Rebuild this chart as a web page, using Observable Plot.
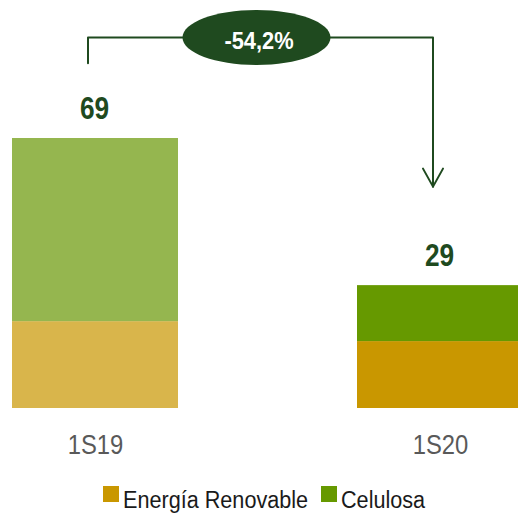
<!DOCTYPE html>
<html>
<head>
<meta charset="utf-8">
<script src="https://cdn.jsdelivr.net/npm/d3@7"></script>
<script src="https://cdn.jsdelivr.net/npm/@observablehq/plot@0.6"></script>
<style>
  html { overflow: hidden; }
  html, body { margin: 0; padding: 0; background: #fff; }
  #chart { position: relative; height: 513px; }
  #chart svg { display: block; }
  .legend { position: absolute; left: 103px; top: 487px; display: flex; align-items: flex-start; font-family: "Liberation Sans", Arial, sans-serif; font-size: 23.5px; line-height: 27px; color: #1a1a1a; white-space: nowrap; }
  .legend .item { display: flex; align-items: flex-start; }
  .legend .sw { width: 16px; height: 16px; margin-top: -1px; margin-right: 4px; flex: none; }
  .legend .txt { display: inline-block; overflow: visible; }
  .legend .inner { display: inline-block; transform-origin: 0 0; }
</style>
</head>
<body>
<div id="chart"></div>
<script>
// ---- data ----
const periods = ["1S19", "1S20"];
const series = ["Energía Renovable", "Celulosa"];
const energiaRenovable = [22.2, 17.1];
const celulosa = [46.8, 14.3];
const totalLabels = ["69", "29"];
const changeLabel = "-54,2%";

// ---- styles ----
const font = '"Liberation Sans", Arial, sans-serif';
const erShades = ["#D9B54B", "#C99700"];
const celShades = ["#95B64F", "#669900"];
const dark = "#1F4A1F";

const rows = periods.flatMap((p, i) => [
  {period: p, series: series[0], value: energiaRenovable[i], color: erShades[i]},
  {period: p, series: series[1], value: celulosa[i], color: celShades[i]}
]);
const totals = periods.map((p, i) => ({period: p, total: energiaRenovable[i] + celulosa[i], label: totalLabels[i]}));

const bracketTop = d3.max(totals, d => d.total) + 25.8;
const connector = [
  {period: periods[0], y: totals[0].total + 19.2},
  {period: periods[0], y: bracketTop},
  {period: periods[1], y: bracketTop},
  {period: periods[1], y: totals[1].total + 25.3}
];

const ellipse = {
  draw(ctx) {
    const rx = 74, ry = 27.5, k = 0.5523;
    ctx.moveTo(rx, 0);
    ctx.bezierCurveTo(rx, ry * k, rx * k, ry, 0, ry);
    ctx.bezierCurveTo(-rx * k, ry, -rx, ry * k, -rx, 0);
    ctx.bezierCurveTo(-rx, -ry * k, -rx * k, -ry, 0, -ry);
    ctx.bezierCurveTo(rx * k, -ry, rx, -ry * k, rx, 0);
    ctx.closePath();
  }
};

function chevron(color) {
  const m = d3.create("svg:marker")
    .attr("viewBox", "-22 -12 26 24")
    .attr("markerWidth", 26).attr("markerHeight", 24)
    .attr("markerUnits", "userSpaceOnUse")
    .attr("refX", 0).attr("refY", 0)
    .attr("orient", "auto")
    .attr("overflow", "visible")
    .attr("fill", "none").attr("stroke", color).attr("stroke-width", 2);
  m.append("path").attr("d", "M-18,-10L0,0L-18,10");
  return m.node();
}

const chart = Plot.plot({
  width: 518,
  height: 470,
  marginLeft: 11,
  marginRight: 0,
  marginTop: 0,
  marginBottom: 62,
  style: {fontFamily: font, background: "white", overflow: "visible"},
  x: {domain: periods, range: [11, 523], paddingInner: 0.5202, paddingOuter: 0, label: null, axis: null},
  y: {domain: [0, 69], range: [408, 138], axis: null},
  marks: [
    Plot.barY(rows, {x: "period", y: "value", fill: "color"}),
    Plot.axisX({tickSize: 0, tickPadding: 25.4, fontSize: 28, color: "#595959", label: null, fontFamily: font}),
    Plot.text(totals, {x: "period", y: "total", text: "label", dy: -29, dx: -1, fontSize: 30.5, fontWeight: "bold", fill: dark, fontFamily: font}),
    Plot.line(connector, {x: "period", y: "y", dx: -7.5, stroke: dark, strokeWidth: 2, curve: "linear", markerEnd: chevron}),
    Plot.dot([connector[1]], {x: "period", y: "y", dx: 161, symbol: ellipse, fill: dark, stroke: "none"}),
    Plot.text([connector[1]], {x: "period", y: "y", dx: 163.5, dy: 4.5, text: () => changeLabel, fontSize: 23, fontWeight: "bold", fill: "white", fontFamily: font})
  ]
});
const holder = document.getElementById("chart");
holder.appendChild(chart);

// narrow the text (Arial Narrow look) while keeping it real text
function narrowWhere(test, f) {
  chart.querySelectorAll("text").forEach(t => {
    if (!test(t.textContent)) return;
    const w = t.getComputedTextLength();
    t.setAttribute("textLength", (w * f).toFixed(1));
    t.setAttribute("lengthAdjust", "spacingAndGlyphs");
  });
}
narrowWhere(s => periods.includes(s), 0.85);
narrowWhere(s => totalLabels.includes(s), 0.86);
narrowWhere(s => s === changeLabel, 0.95);

const legend = d3.select(holder).append("div").attr("class", "legend");
const legendFactor = 0.92;
series.forEach((s, i) => {
  const item = legend.append("div").attr("class", "item").style("margin-right", i === 0 ? "13px" : "0px");
  item.append("div").attr("class", "sw").style("background", i === 0 ? erShades[1] : celShades[1]);
  const txt = item.append("span").attr("class", "txt");
  const inner = txt.append("span").attr("class", "inner").text(s);
  const w = inner.node().getBoundingClientRect().width;
  inner.style("transform", `scaleX(${legendFactor})`);
  txt.style("width", (w * legendFactor) + "px");
});
</script>
</body>
</html>
